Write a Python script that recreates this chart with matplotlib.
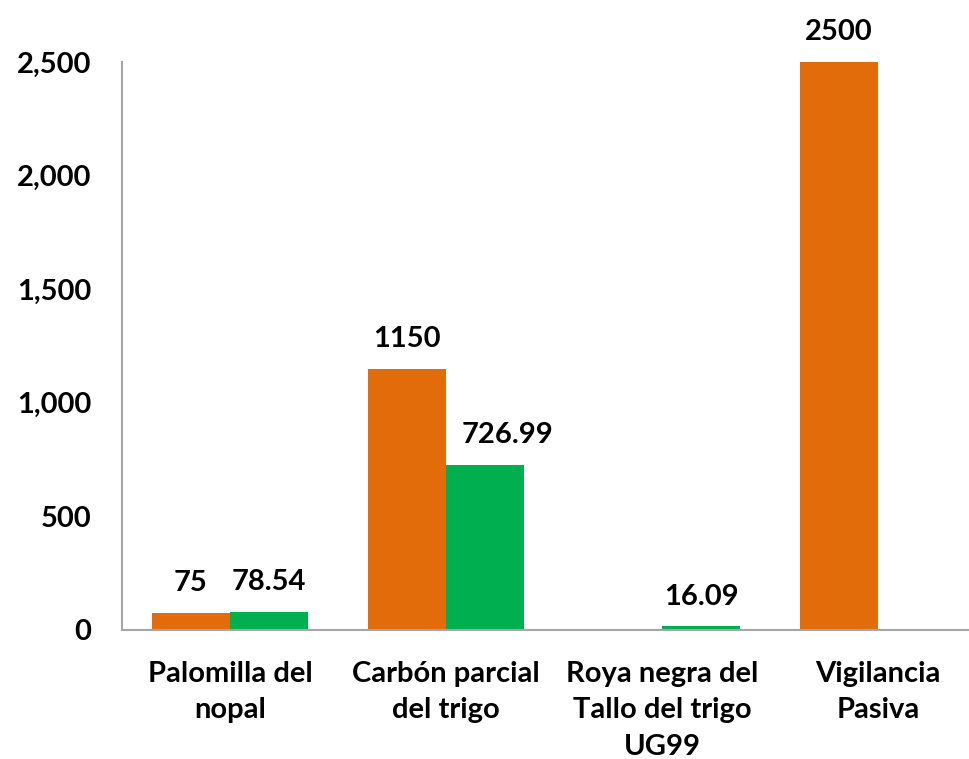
import matplotlib
matplotlib.use("Agg")
import matplotlib.pyplot as plt
import numpy as np
from matplotlib.ticker import FuncFormatter

categories = ["Palomilla del\nnopal", "Carbón parcial\ndel trigo", "Roya negra del\nTallo del trigo\nUG99", "Vigilancia\nPasiva"]
series_orange = [75, 1150, None, 2500]
series_green = [78.54, 726.99, 16.09, None]
labels_orange = ["75", "1150", "", "2500"]
labels_green = ["78.54", "726.99", "16.09", ""]
green_label_dx = [0, 22, 0, 0]

plt.rcParams['font.family'] = ['Lato', 'DejaVu Sans']
fig = plt.figure(figsize=(9.69, 7.59), dpi=100)
ax = fig.add_axes([122/969, 1-630/759, 864/969, 568/759])
x = np.arange(len(categories))
w = 0.362
orange = "#E36C0A"
green = "#00B050"
fs = 21
for i in range(len(categories)):
    if series_orange[i] is not None:
        ax.bar(x[i] - w/2, series_orange[i], w, color=orange)
        ax.annotate(labels_orange[i], (x[i] - w/2, series_orange[i]), xytext=(0, 12),
                    textcoords='offset points', ha='center', va='bottom',
                    fontsize=fs, fontweight='bold')
    if series_green[i] is not None:
        ax.bar(x[i] + w/2, series_green[i], w, color=green)
        ax.annotate(labels_green[i], (x[i] + w/2, series_green[i]), xytext=(green_label_dx[i] * 0.72, 12),
                    textcoords='offset points', ha='center', va='bottom',
                    fontsize=fs, fontweight='bold')
ax.set_xlim(-0.5, 3.5)
ax.set_ylim(0, 2500)
ax.set_yticks([0, 500, 1000, 1500, 2000, 2500])
ax.yaxis.set_major_formatter(FuncFormatter(lambda v, p: f"{int(v):,}"))
ax.set_xticks(x)
ax.set_xticklabels(categories, linespacing=1.5)
for lab in ax.get_xticklabels() + ax.get_yticklabels():
    lab.set_fontsize(fs)
    lab.set_fontweight('bold')
ax.tick_params(axis='both', length=0)
ax.tick_params(axis='y', pad=22)
ax.tick_params(axis='x', pad=22)
for s in ['top', 'right']:
    ax.spines[s].set_visible(False)
for s in ['left', 'bottom']:
    ax.spines[s].set_color('#A6A6A6')
    ax.spines[s].set_linewidth(1.5)
fig.savefig("out.png", dpi=100)
